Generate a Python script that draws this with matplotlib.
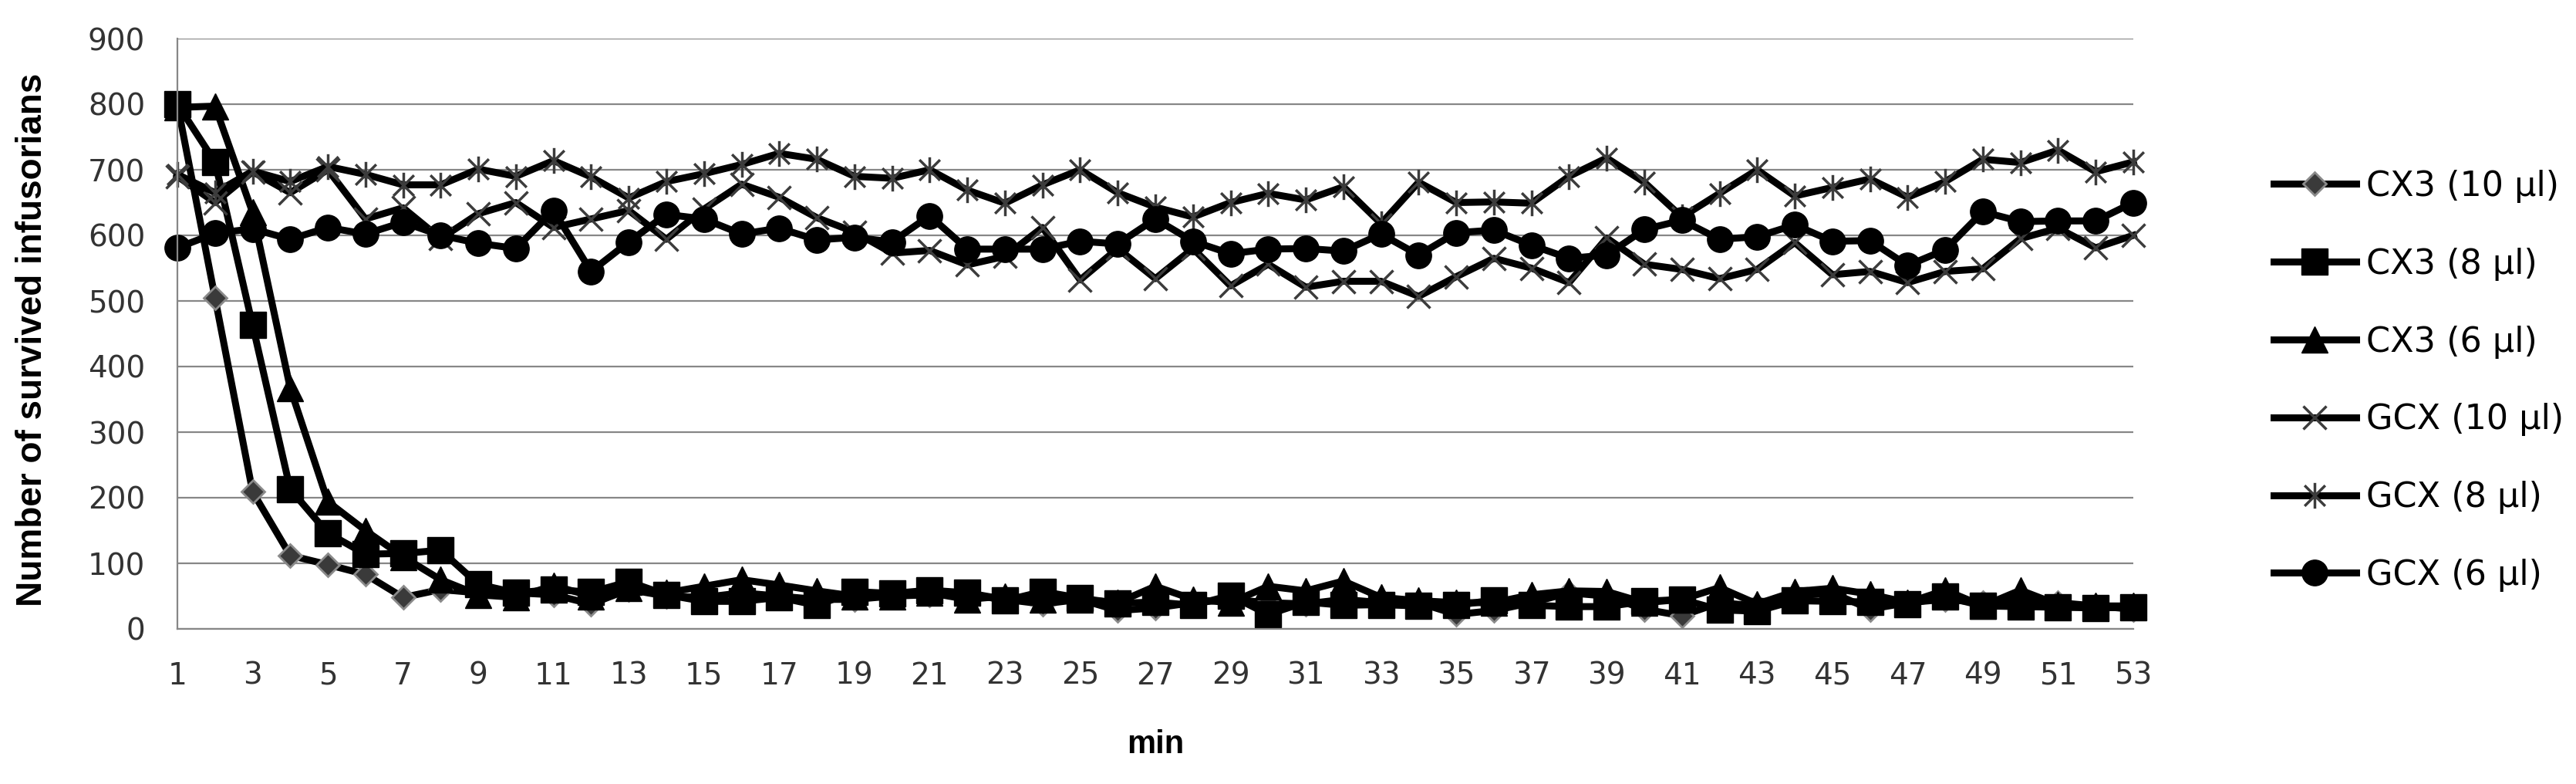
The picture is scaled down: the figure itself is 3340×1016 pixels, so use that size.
# Survival of infusorians over time for CX3 / GCX doses

import matplotlib
matplotlib.use("Agg")
import matplotlib.pyplot as plt
from matplotlib.path import Path

minutes = list(range(1, 54))

cx3_10 = [800, 505, 209, 112, 98, 83, 48, 60, 55, 55, 52, 38, 60, 50, 48, 55, 50, 45,
          45, 50, 52, 55, 45, 38, 45, 28, 32, 40, 45, 40, 38, 45, 40, 40, 22, 28, 40,
          55, 50, 30, 20, 40, 35, 50, 55, 30, 40, 45, 40, 45, 40, 35, 30]
cx3_8 = [800, 712, 463, 213, 146, 114, 115, 120, 68, 55, 60, 56, 72, 52, 42, 42, 48, 36,
         57, 54, 59, 55, 43, 57, 47, 39, 41, 36, 51, 22, 41, 36, 37, 35, 36, 44, 36,
         34, 34, 42, 45, 29, 27, 43, 42, 41, 38, 49, 35, 34, 33, 32, 33]
cx3_6 = [795, 797, 635, 367, 194, 150, 110, 75, 52, 48, 66, 50, 62, 55, 65, 75, 67, 58,
         50, 50, 55, 45, 50, 45, 45, 40, 65, 45, 40, 65, 58, 73, 48, 43, 40, 40, 52,
         58, 57, 40, 45, 63, 38, 57, 62, 53, 40, 59, 35, 59, 37, 35, 35]
gcx_10 = [690, 650, 697, 665, 700, 625, 642, 595, 633, 650, 612, 625, 638, 594, 640, 678,
          658, 627, 605, 573, 577, 555, 568, 612, 532, 580, 534, 580, 523, 556, 521, 530,
          530, 507, 537, 565, 550, 528, 596, 556, 548, 534, 548, 589, 540, 545, 528, 545,
          549, 595, 611, 581, 600]
gcx_8 = [693, 665, 698, 682, 705, 693, 677, 677, 701, 690, 714, 689, 657, 682, 694, 708,
         725, 716, 690, 687, 700, 669, 649, 677, 700, 665, 643, 628, 650, 664, 654, 674,
         618, 681, 650, 651, 649, 690, 718, 681, 628, 664, 700, 660, 673, 686, 658, 682,
         716, 711, 730, 697, 712]
gcx_6 = [581, 603, 610, 594, 612, 602, 620, 600, 588, 580, 638, 545, 590, 632, 625, 602,
         611, 593, 597, 590, 630, 579, 579, 579, 591, 587, 625, 591, 572, 579, 580, 576,
         602, 570, 604, 608, 585, 565, 570, 609, 623, 594, 598, 616, 591, 592, 554, 578,
         636, 621, 622, 622, 650]

labels = ["CX3 (10 µl)", "CX3 (8 µl)", "CX3 (6 µl)", "GCX (10 µl)", "GCX (8 µl)", "GCX (6 µl)"]

# Excel style asterisk: an x with a vertical bar
asterisk = Path([(-1, -1), (1, 1), (-1, 1), (1, -1), (0, -1.25), (0, 1.25)],
                [Path.MOVETO, Path.LINETO] * 3)

styles = [
    dict(marker="D", ms=15, mfc="#3a3a3a", mec="#8a8a8a", mew=2),
    dict(marker="s", ms=24, mfc="black", mec="black"),
    dict(marker="^", ms=24, mfc="black", mec="black"),
    dict(marker="x", ms=22, mec="#3c3c3c", mew=2.5),
    dict(marker=asterisk, ms=24, mfc="none", mec="#3c3c3c", mew=2.5),
    dict(marker="o", ms=24, mfc="black", mec="black"),
]

fig = plt.figure(figsize=(33.4, 10.16), dpi=100)
ax = fig.add_axes([230 / 3340, 1 - 815 / 1016, (2766 - 230) / 3340, (815 - 50) / 1016])

for vals, label, st in zip([cx3_10, cx3_8, cx3_6, gcx_10, gcx_8, gcx_6], labels, styles):
    ax.plot(minutes, vals, color="black", lw=6.5, label=label, clip_on=False, **st)

ax.set_xlim(1, 53)
ax.set_ylim(0, 900)
ax.set_yticks(range(0, 901, 100))
ax.set_xticks(minutes[::2])
ax.grid(axis="y", color="#878787", lw=1.6)
ax.set_axisbelow(True)
for s in ["top", "right"]:
    ax.spines[s].set_visible(False)
for s in ["left", "bottom"]:
    ax.spines[s].set_color("#878787")
    ax.spines[s].set_linewidth(1.6)
ax.tick_params(length=0, labelsize=28, colors="#333333")
ax.tick_params(axis="x", pad=30)
ax.tick_params(axis="y", pad=30)

fig.text(1498 / 3340, 1 - 965 / 1016, "min", ha="center", va="center",
         fontsize=30, fontweight="bold", family="Liberation Sans")
fig.text(42 / 3340, 1 - 440 / 1016, "Number of survived infusorians", ha="center",
         va="center", rotation=90, fontsize=33, fontweight="bold", family="Liberation Sans")

ax.legend(loc="upper left", bbox_to_anchor=(2948 / 3340, 1 - 220 / 1016),
          bbox_transform=fig.transFigure, frameon=False, fontsize=32,
          handlelength=2.4, handletextpad=0.3, labelspacing=1.3,
          borderpad=0, borderaxespad=0)

fig.savefig("out.png", dpi=100)
